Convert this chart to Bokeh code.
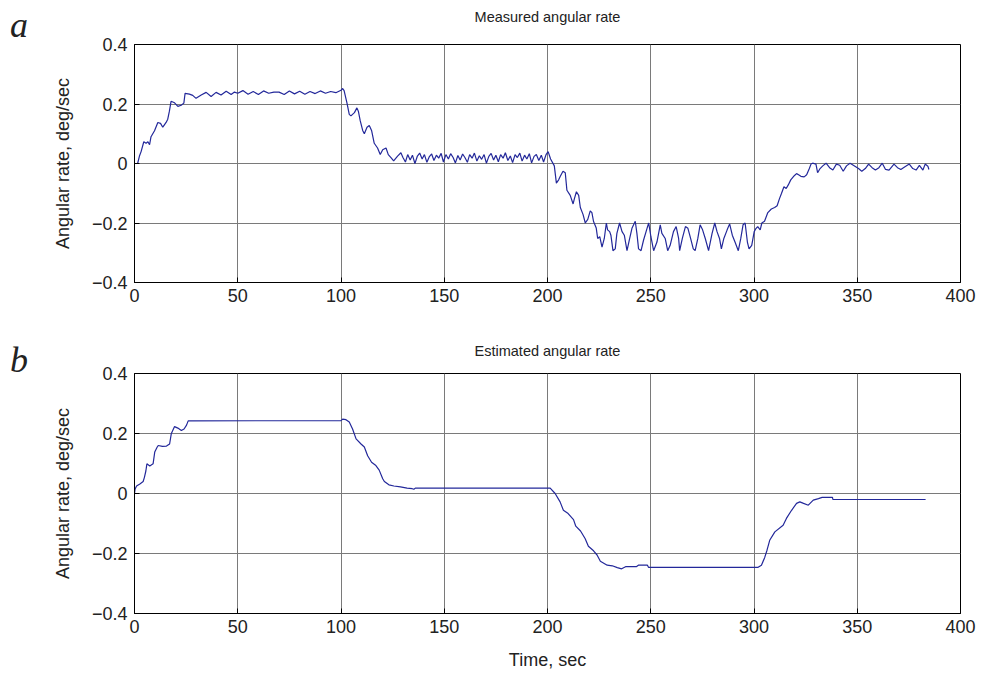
from bokeh.plotting import figure
from bokeh.models import (FixedTicker, Range1d, CustomJSTickFormatter, LinearAxis, Div)
from bokeh.layouts import column, row
from bokeh.embed import file_html
from bokeh.resources import INLINE

# ---------------- data ----------------
meas_t = [0, 1.5, 2.4, 3.2, 4.5, 5.6, 6.5, 7.3, 8.0, 9.7, 11.3, 12.6, 13.7, 15.3, 16.1, 16.9, 17.7,
          19.4, 21.0, 22.6, 23.9, 24.5, 26.6, 28.2, 29.8, 32.3, 34.7, 37.1, 39.5, 41.9, 44.4, 46.8,
          48.4, 50.0, 52.5, 55.0, 57.5, 60.0, 62.5, 65.0, 67.5, 70.0, 72.5, 75.0, 77.5, 80.0, 82.5,
          85.0, 87.5, 90.0, 92.5, 95.0, 97.5, 100.0, 100.8, 101.5, 102.9, 104.0, 104.8, 106.5,
          107.7, 108.4, 109.3, 110.5, 111.3, 112.6, 113.7, 114.8, 116.1, 117.7, 119.0, 120.2,
          121.8, 122.9, 124.2, 125.5, 127.4, 129.0,
          130.0, 131.2, 132.3, 133.5, 134.6, 135.8, 137.0, 138.1, 139.3, 140.4, 141.6, 142.7,
          143.9, 145.0, 146.2, 147.3, 148.5, 149.6, 150.8, 152.0, 153.1, 154.3, 155.4, 156.6,
          157.7, 158.9, 160.0, 161.2, 162.3, 163.5, 164.6, 165.8, 167.0, 168.1, 169.3, 170.4,
          171.6, 172.7, 173.9, 175.0, 176.2, 177.3, 178.5, 179.6, 180.8, 182.0, 183.1, 184.3,
          185.4, 186.6, 187.7, 188.9, 190.0, 191.2, 192.3, 193.5, 194.6, 195.8, 197.0, 198.1,
          199.3, 200.3, 201.5, 203.3, 204.3, 205.4, 206.2, 207.5, 208.6, 209.4, 211.0, 212.4,
          213.0, 214.0, 215.1, 215.9, 217.2, 218.3, 219.5, 220.7, 221.5, 222.3, 223.6, 224.3,
          225.3, 226.4, 227.5, 228.5, 229.1, 230.1, 230.7, 231.7, 232.8, 233.6, 234.9, 236.1,
          237.2, 238.5, 239.8, 240.9, 242.5, 243.3, 244.1, 245.3, 246.5, 248.2, 249.0, 250.1,
          251.4, 253.0, 254.6, 255.4, 257.0, 258.2, 259.4, 261.0, 262.3,
          263.5, 264.0, 265.3, 266.8, 268.0, 269.3, 270.6, 271.5, 272.8, 273.9, 275.1, 276.4,
          278.0, 279.7, 281.0, 282.1, 283.3, 284.2, 285.4, 287.0, 288.2, 289.5, 290.8, 292.4,
          293.6, 294.7, 295.7, 296.8, 297.6, 298.9, 300.1, 300.8, 301.8, 303.0, 303.8, 305.1,
          306.7, 308.4, 310.0, 311.2, 312.3, 313.3, 314.5, 315.6, 316.6, 317.8, 319.5, 320.6,
          321.6, 322.7, 324.3, 325.5, 326.8, 327.6, 328.4, 330.0, 330.8, 332.0, 333.3, 334.9,
          336.6, 338.2, 339.9, 341.5, 343.2, 344.8, 346.5, 348.1, 350.6, 352.2, 353.9, 355.5,
          357.2, 358.8, 360.5, 362.1, 363.7, 365.4, 367.8, 369.5, 371.1, 373.1, 375.2, 376.9,
          378.5, 380.1, 381.8, 382.9, 384.2, 384.7]
meas_v = [0.0, 0.0, 0.025, 0.04, 0.073, 0.068, 0.073, 0.063, 0.09, 0.11, 0.138, 0.135, 0.122, 0.138,
          0.149, 0.176, 0.209, 0.204, 0.192, 0.196, 0.203, 0.236, 0.233, 0.229, 0.219, 0.23, 0.239,
          0.225, 0.239, 0.23, 0.243, 0.232, 0.24, 0.236, 0.245, 0.233, 0.242, 0.232, 0.244, 0.236,
          0.24, 0.24, 0.232, 0.244, 0.234, 0.243, 0.233, 0.242, 0.235, 0.244, 0.236, 0.242, 0.238,
          0.246, 0.252, 0.245, 0.203, 0.165, 0.16, 0.171, 0.187, 0.176, 0.144, 0.111, 0.1, 0.122,
          0.128, 0.111, 0.068, 0.052, 0.03, 0.046, 0.052, 0.03, 0.02, 0.009, 0.025, 0.036,
          0.02, 0.005, 0.03, 0.012, 0.028, 0.0, 0.025, 0.035, 0.015, 0.03, 0.004, 0.022,
          0.032, 0.01, 0.028, 0.018, 0.034, 0.005, 0.03, 0.015, 0.033, 0.02, 0.002, 0.027,
          0.012, 0.032, 0.02, 0.004, 0.03, 0.018, 0.035, 0.008, 0.026, 0.014, 0.03, 0.001,
          0.024, 0.034, 0.012, 0.028, 0.006, 0.03, 0.018, 0.036, 0.01, 0.025, 0.003, 0.03,
          0.02, 0.035, 0.008, 0.028, 0.015, 0.033, 0.002, 0.024, 0.03, 0.01, 0.028, 0.005,
          0.03, 0.04, 0.015, -0.008, -0.066, -0.055, -0.043, -0.026, -0.031, -0.09, -0.107, -0.136,
          -0.119, -0.095, -0.107, -0.148, -0.171, -0.2, -0.188, -0.159, -0.165, -0.195, -0.217, -0.252,
          -0.246, -0.281, -0.252, -0.2, -0.223, -0.229, -0.241, -0.293, -0.287, -0.235, -0.2, -0.229,
          -0.241, -0.293, -0.252, -0.218, -0.194, -0.235, -0.287, -0.293, -0.258, -0.218, -0.2, -0.247,
          -0.293, -0.264, -0.206, -0.235, -0.252, -0.293, -0.275, -0.229, -0.212,
          -0.252, -0.293, -0.252, -0.212, -0.218, -0.252, -0.287, -0.293, -0.252, -0.206, -0.223, -0.252,
          -0.293, -0.235, -0.2, -0.229, -0.252, -0.287, -0.252, -0.223, -0.203, -0.241, -0.264, -0.293,
          -0.252, -0.206, -0.2, -0.264, -0.287, -0.275, -0.229, -0.22, -0.212, -0.223, -0.2, -0.194,
          -0.165, -0.153, -0.148, -0.142, -0.119, -0.101, -0.078, -0.084, -0.072, -0.055, -0.041, -0.034,
          -0.038, -0.043, -0.045, -0.038, -0.017, -0.002, 0.001, -0.002, -0.031, -0.017, -0.008, 0.001,
          -0.014, -0.022, -0.002, -0.006, -0.026, -0.008, 0.001, -0.006, -0.017, -0.026, -0.017, -0.002,
          -0.014, -0.022, -0.014, 0.001, -0.02, -0.022, -0.002, -0.014, -0.02, -0.011, -0.002, -0.017,
          -0.022, -0.006, -0.022, -0.002, -0.009, -0.02]

est_t = [0, 0.3, 1.0, 2.6, 4.2, 4.8, 5.5, 6.0, 7.4, 9.0, 9.8, 11.0, 11.5, 13.5, 15.5, 17.0, 17.8,
         19.4, 21.0, 22.7, 24.0, 25.2, 26.0, 100.0, 100.8, 102.4, 104.0, 105.6, 107.3, 109.7,
         111.3, 112.9, 114.8, 116.9, 118.5, 120.2, 121.0, 123.2, 125.6, 128.8, 132.0, 134.5,
         135.3, 136.0, 201.3, 203.7, 206.1, 207.7, 210.0, 212.6, 213.7, 216.0, 218.2, 219.8,
         222.3, 224.0, 225.6, 228.9, 231.4, 233.8, 235.9, 237.8, 243.0, 244.0, 248.4, 248.9,
         302.0, 303.6, 305.2, 306.3, 307.6, 310.1, 314.1, 315.7, 318.2, 320.6, 322.2, 324.0,
         326.3, 328.7, 331.2, 333.0, 338.0, 338.2, 383.1]
est_v = [0.0, 0.015, 0.025, 0.032, 0.04, 0.054, 0.075, 0.099, 0.092, 0.099, 0.138, 0.155, 0.16,
         0.157, 0.158, 0.165, 0.199, 0.223, 0.218, 0.21, 0.215, 0.228, 0.242, 0.243, 0.248, 0.246,
         0.238, 0.215, 0.182, 0.165, 0.155, 0.126, 0.104, 0.093, 0.078, 0.049, 0.04, 0.029, 0.025,
         0.022, 0.018, 0.016, 0.014, 0.018, 0.018, 0.0, -0.028, -0.056, -0.067, -0.087, -0.109,
         -0.125, -0.15, -0.176, -0.191, -0.205, -0.226, -0.239, -0.241, -0.247, -0.251, -0.244,
         -0.244, -0.239, -0.239, -0.246, -0.246, -0.239, -0.213, -0.189, -0.156, -0.128, -0.106,
         -0.083, -0.056, -0.033, -0.028, -0.033, -0.039, -0.022, -0.017, -0.013, -0.013, -0.02,
         -0.02]

x_ticks = [0, 50, 100, 150, 200, 250, 300, 350, 400]
y_ticks = [-0.4, -0.2, 0, 0.2, 0.4]
titles = ["Measured angular rate", "Estimated angular rate"]
panel_letters = ["a", "b"]
y_label = "Angular rate, deg/sec"
x_label = "Time, sec"

# ---------------- styling ----------------
FONT = "Liberation Sans Narrow, Liberation Sans, sans-serif"
LINE_COLOR = "#23289a"
GRID_COLOR = "#7a7a7a"
TEXT_COLOR = "#222222"
LETTER_W = 40

fmt = CustomJSTickFormatter(code="""
    if (Math.abs(tick) < 1e-9) return '0';
    var s = Math.abs(tick).toFixed(1);
    return tick < 0 ? '\u2212' + s : s;
""")


def make_letter(letter, height, pad_top):
    html = ('<div style="padding:%dpx 0 0 10px; font-family:\'Liberation Serif\', serif; '
            'font-style:italic; font-size:36px; line-height:36px; color:%s;">%s</div>'
            % (pad_top, TEXT_COLOR, letter))
    return Div(text=html, width=LETTER_W, height=height, margin=0)


def make_panel(t, v, title, height, top, bottom, with_xlabel, title_gap):
    p = figure(width=982 - LETTER_W, height=height, output_backend="svg",
               toolbar_location=None,
               x_range=Range1d(0, 400), y_range=Range1d(-0.4, 0.4),
               min_border_left=134 - LETTER_W, min_border_right=22, min_border_top=top,
               min_border_bottom=bottom, x_axis_label=(x_label if with_xlabel else None),
               y_axis_label=y_label)
    p.outline_line_color = "black"
    p.outline_line_width = 1
    p.background_fill_color = "white"
    p.border_fill_color = "white"
    for ax in p.xaxis:
        ax.ticker = FixedTicker(ticks=x_ticks)
    for ax in p.yaxis:
        ax.ticker = FixedTicker(ticks=y_ticks)
        ax.formatter = fmt
    for ax in list(p.xaxis) + list(p.yaxis):
        ax.major_tick_in = 5
        ax.major_tick_out = 0
        ax.minor_tick_line_color = None
        ax.axis_line_color = "black"
        ax.major_tick_line_color = "black"
        ax.major_label_text_font = FONT
        ax.major_label_text_font_size = "18px"
        ax.major_label_text_color = TEXT_COLOR
        ax.axis_label_text_font = FONT
        ax.axis_label_text_font_size = "18px"
        ax.axis_label_text_font_style = "normal"
        ax.axis_label_text_color = TEXT_COLOR
    for ax in p.yaxis:
        ax.major_label_standoff = 7
        ax.axis_label_standoff = 16
    for ax in p.xaxis:
        ax.major_label_standoff = 6
        ax.axis_label_standoff = 14
    # plot title drawn as the label of a tick-less axis above the frame
    title_axis = LinearAxis(ticker=FixedTicker(ticks=[]), axis_label=title,
                            axis_line_color=None, major_tick_line_color=None,
                            minor_tick_line_color=None, major_tick_in=0, major_tick_out=0,
                            major_label_standoff=0, axis_label_standoff=title_gap,
                            axis_label_text_font=FONT, axis_label_text_font_size="14.5px",
                            axis_label_text_font_style="normal",
                            axis_label_text_color=TEXT_COLOR)
    p.add_layout(title_axis, "above")
    p.xgrid.ticker = FixedTicker(ticks=x_ticks)
    p.ygrid.ticker = FixedTicker(ticks=y_ticks)
    p.grid.grid_line_color = GRID_COLOR
    p.grid.grid_line_width = 1
    p.line(t, v, line_color=LINE_COLOR, line_width=1.2)
    return p


p1 = make_panel(meas_t, meas_v, titles[0], 318, 44, 36, False, 20)
p2 = make_panel(est_t, est_v, titles[1], 358, 55, 63, True, 15)
l1 = make_letter(panel_letters[0], 318, 7)
l2 = make_letter(panel_letters[1], 358, 24)

layout = column(row(l1, p1, spacing=0), row(l2, p2, spacing=0), spacing=0)
open("out.html", "w").write(file_html(layout, INLINE))
